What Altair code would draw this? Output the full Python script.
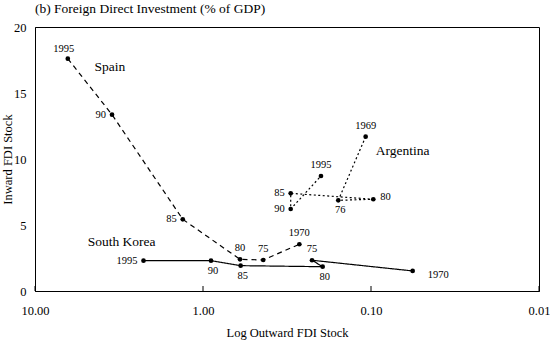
import altair as alt
import pandas as pd

# ---- data ----
spain_years = ["1995", "90", "85", "80", "75", "1970"]
spain_x = [6.38, 3.48, 1.32, 0.602, 0.438, 0.267]
spain_y = [17.6, 13.36, 5.43, 2.4, 2.35, 3.54]

korea_years = ["1995", "90", "85", "80", "75", "1970"]
korea_x = [2.26, 0.896, 0.597, 0.194, 0.2245, 0.0565]
korea_y = [2.3, 2.3, 1.92, 1.84, 2.33, 1.52]

arg_years = ["1969", "76", "80", "85", "90", "1995"]
arg_x = [0.1076, 0.1566, 0.0969, 0.3006, 0.3006, 0.1985]
arg_y = [11.69, 6.87, 6.95, 7.4, 6.21, 8.71]

series_names = ["Spain", "South Korea", "Argentina"]
name_x = [3.58, 3.05, 0.0648]
name_y = [16.97, 3.73, 10.63]

x_ticks = [10, 1, 0.1, 0.01]
y_ticks = [0, 5, 10, 15, 20]

# label placement per point
placement = {
    ("Spain", "1995"): "aboveleft", ("Spain", "90"): "left", ("Spain", "85"): "left",
    ("Spain", "80"): "above", ("Spain", "75"): "above", ("Spain", "1970"): "above",
    ("South Korea", "1995"): "left", ("South Korea", "90"): "below",
    ("South Korea", "85"): "below", ("South Korea", "80"): "below",
    ("South Korea", "75"): "above", ("South Korea", "1970"): "farright",
    ("Argentina", "1969"): "above", ("Argentina", "76"): "below",
    ("Argentina", "80"): "right", ("Argentina", "85"): "left",
    ("Argentina", "90"): "left", ("Argentina", "1995"): "above",
}
styles = {
    "above": ("center", 0, -11),
    "aboveleft": ("center", -4, -10),
    "below": ("center", 2, 10),
    "left": ("right", -6, 0),
    "right": ("left", 7, -2),
    "farright": ("left", 15, 4),
}

rows = []
for name, yrs, xs, ys in [("Spain", spain_years, spain_x, spain_y),
                          ("South Korea", korea_years, korea_x, korea_y),
                          ("Argentina", arg_years, arg_x, arg_y)]:
    for i, (yr, xv, yv) in enumerate(zip(yrs, xs, ys)):
        rows.append({"series": name, "year": yr, "x": xv, "y": yv, "ord": i,
                     "place": placement[(name, yr)]})
df = pd.DataFrame(rows)
names_df = pd.DataFrame({"name": series_names, "x": name_x, "y": name_y})
ticks_df = pd.DataFrame({"t": x_ticks})

FONT = "Liberation Serif"
xs = alt.Scale(type="log", domain=[0.01, 10], reverse=True)
ys_ = alt.Scale(domain=[0, 20], nice=False)

X = alt.X("x:Q", scale=xs, title="Log Outward FDI Stock",
          axis=alt.Axis(values=x_ticks, format=".2f", grid=False, tickSize=0,
                        labelPadding=13, titlePadding=10, labelFlush=False))
Y = alt.Y("y:Q", scale=ys_, title="Inward FDI Stock",
          axis=alt.Axis(values=y_ticks, grid=False, tickSize=0, labelPadding=9,
                        titleX=-21, titleY=132, titleBaseline="bottom",
                        titleAlign="center", titleAngle=270))

base = alt.Chart(df)
layers = []
dash = {"Spain": [5, 4], "South Korea": [1, 0], "Argentina": [2, 2.5]}
for s in series_names:
    layers.append(
        base.transform_filter(alt.datum.series == s)
        .mark_line(color="black", strokeWidth=1.2, strokeDash=dash[s])
        .encode(x=X, y=Y, order="ord:Q")
    )
layers.append(base.mark_circle(color="black", opacity=1, size=22).encode(x=X, y=Y))
for p, (al, dx, dy) in styles.items():
    layers.append(
        base.transform_filter(alt.datum.place == p)
        .mark_text(font=FONT, fontSize=10.5, color="black", align=al, dx=dx, dy=dy,
                   baseline="middle")
        .encode(x=X, y=Y, text="year:N")
    )
layers.append(
    alt.Chart(names_df).mark_text(font=FONT, fontSize=13.5, color="black", baseline="middle")
    .encode(x=alt.X("x:Q", scale=xs), y=alt.Y("y:Q", scale=ys_), text="name:N")
)
layers.append(
    alt.Chart(ticks_df).mark_rule(color="black", strokeWidth=1)
    .encode(x=alt.X("t:Q", scale=xs), y=alt.value(264), y2=alt.value(259))
)

chart = (
    alt.layer(*layers)
    .properties(
        width=504, height=264,
        title=alt.TitleParams("(b) Foreign Direct Investment (% of GDP)", anchor="start",
                              frame="group", font=FONT, fontSize=13.5, fontWeight="normal",
                              offset=6, color="black"),
        padding={"left": 35, "top": 27, "right": 11, "bottom": 49},
        autosize=alt.AutoSizeParams(type="none"),
    )
    .configure_view(stroke="black", strokeWidth=1)
    .configure_axis(labelFont=FONT, titleFont=FONT, labelFontSize=12.5, titleFontSize=12.5,
                    labelColor="black", titleColor="black", domainColor="black",
                    titleFontWeight="normal")
)
chart.save("out.html", embed_options={"renderer": "svg", "actions": False})
